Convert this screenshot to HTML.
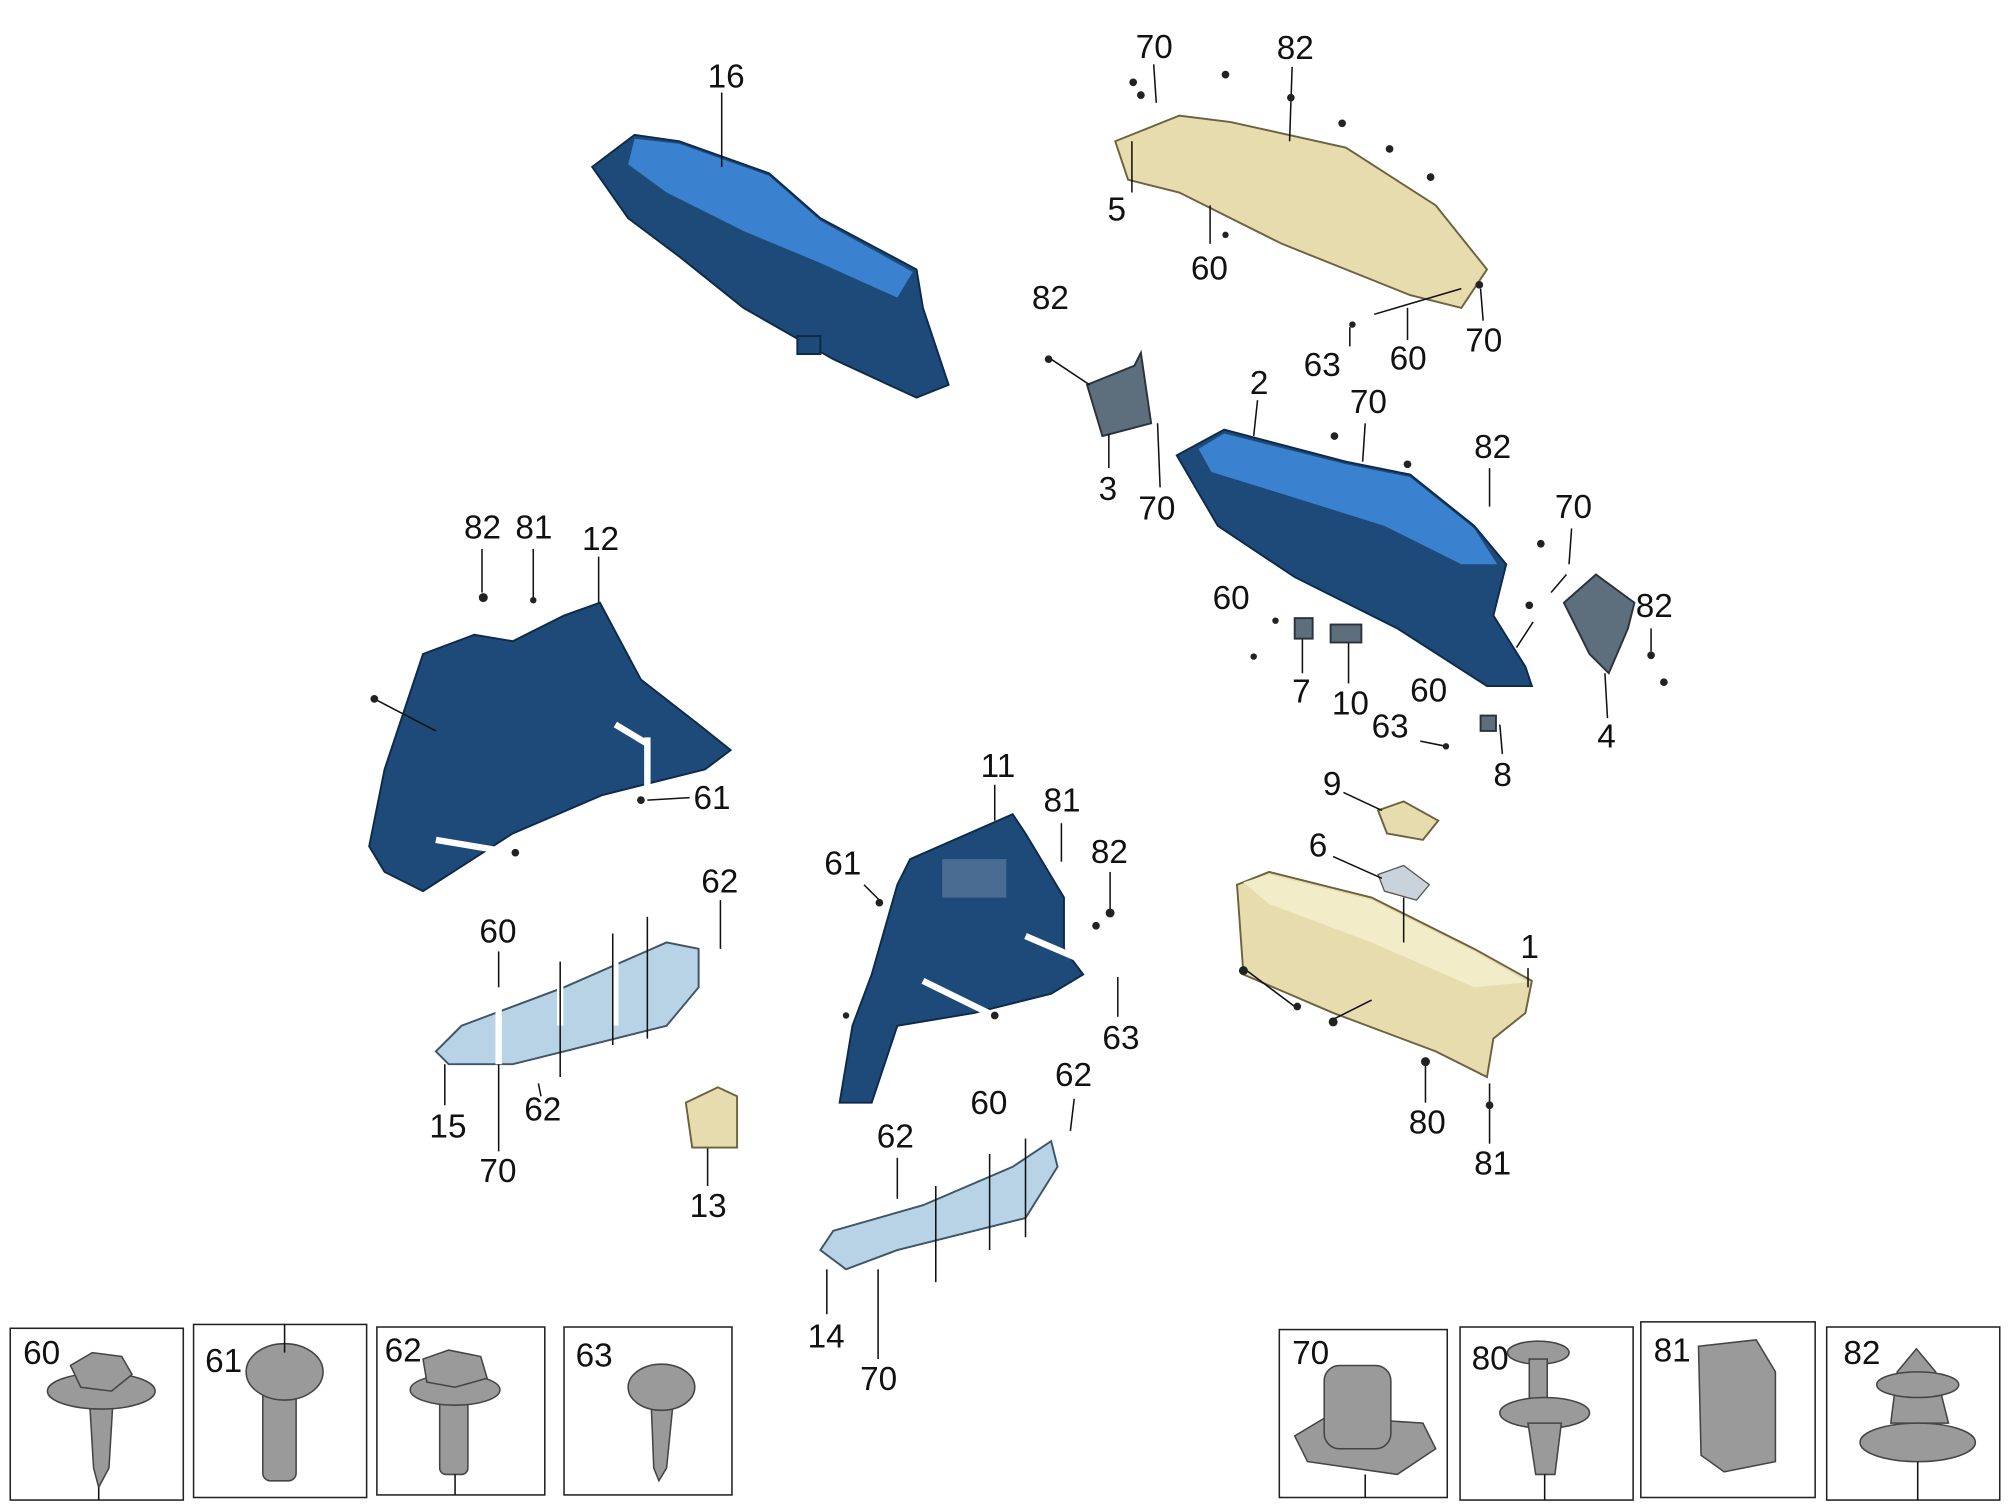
<!DOCTYPE html>
<html><head><meta charset="utf-8"><style>
html,body{margin:0;padding:0;background:#fff;}
svg{display:block}
text{font-family:"Liberation Sans",sans-serif;font-size:26px;fill:#111}
.b{fill:#1d4a78;stroke:#0d2a48;stroke-width:1.5}
.bl{fill:#3a82cf}
.y{fill:#e6dcae;stroke:#6b6240;stroke-width:1.5}
.g{fill:#5d6e7c;stroke:#2a333b;stroke-width:1.5}
.lb{fill:#b9d3e6;stroke:#3d5566;stroke-width:1.5}
.l{stroke:#111;stroke-width:1.2;fill:none}
.bx{fill:#fff;stroke:#222;stroke-width:1.2}
.m{fill:#9a9a9a;stroke:#444;stroke-width:1.2}
.w{stroke:#fff;stroke-width:5}
.d{fill:#222}
</style></head><body>
<svg width="2010" height="1508" viewBox="0 0 1568 1176" xmlns="http://www.w3.org/2000/svg">
<!-- 16 -->
<polygon class="b" points="462,130 495,105 530,110 600,135 640,170 715,210 720,240 740,300 715,310 650,280 580,240 530,200 490,170"/>
<polygon class="bl" points="495,108 530,112 600,137 640,172 712,212 700,232 640,205 580,180 520,150 490,128"/>
<rect x="622" y="262" width="18" height="14" class="b"/>
<line class="l" x1="563" y1="72" x2="563" y2="130"/><text x="552" y="68">16</text>
<!-- 5 -->
<polygon class="y" points="870,110 920,90 960,95 1050,115 1120,160 1160,210 1140,240 1100,230 1000,190 920,150 880,140"/>
<g class="l"><line x1="900" y1="50" x2="902" y2="80"/><line x1="1008" y1="52" x2="1006" y2="110"/><line x1="883" y1="110" x2="883" y2="150"/><line x1="944" y1="190" x2="944" y2="160"/><line x1="1053" y1="270" x2="1053" y2="255"/><line x1="1098" y1="265" x2="1098" y2="240"/><line x1="1157" y1="250" x2="1155" y2="225"/></g>
<g class="d"><circle cx="884" cy="64" r="3"/><circle cx="890" cy="74" r="3"/><circle cx="956" cy="58" r="3"/><circle cx="1007" cy="76" r="3"/><circle cx="1047" cy="96" r="3"/><circle cx="1084" cy="116" r="3"/><circle cx="1116" cy="138" r="3"/><circle cx="956" cy="183" r="2.5"/><circle cx="1055" cy="253" r="2.5"/><circle cx="1154" cy="222" r="3"/></g>
<text x="886" y="45">70</text><text x="996" y="46">82</text><text x="864" y="172">5</text><text x="929" y="218">60</text>
<text x="1017" y="293">63</text><text x="1084" y="288">60</text><text x="1143" y="274">70</text>
<line class="l" x1="1072" y1="245" x2="1140" y2="225"/>
<!-- 3 -->
<polygon class="g" points="848,300 885,285 890,275 898,330 860,340"/>
<text x="805" y="241">82</text><text x="857" y="390">3</text><text x="888" y="405">70</text>
<line class="l" x1="820" y1="280" x2="850" y2="300"/><line class="l" x1="865" y1="365" x2="865" y2="338"/><line class="l" x1="905" y1="380" x2="903" y2="330"/>
<circle class="d" cx="818" cy="280" r="3"/>
<!-- 2 -->
<polygon class="b" points="918,355 955,335 1050,360 1100,370 1150,410 1175,440 1165,480 1190,520 1195,535 1160,535 1090,490 1010,450 950,410"/>
<polygon class="bl" points="935,350 955,338 1050,362 1100,372 1150,412 1168,440 1140,440 1080,410 1000,385 945,368"/>
<text x="975" y="307">2</text><text x="1053" y="322">70</text><text x="1150" y="357">82</text><text x="1213" y="404">70</text>
<text x="946" y="475">60</text><text x="1008" y="548">7</text><text x="1039" y="557">10</text><text x="1100" y="547">60</text>
<text x="1070" y="575">63</text><text x="1165" y="613">8</text><text x="1246" y="583">4</text><text x="1276" y="481">82</text>
<line class="l" x1="981" y1="312" x2="978" y2="340"/>
<g class="l"><line x1="1065" y1="330" x2="1063" y2="360"/><line x1="1162" y1="365" x2="1162" y2="395"/><line x1="1226" y1="412" x2="1224" y2="440"/><line x1="1016" y1="525" x2="1016" y2="495"/><line x1="1052" y1="533" x2="1052" y2="500"/><line x1="1108" y1="578" x2="1128" y2="582"/><line x1="1172" y1="588" x2="1170" y2="565"/><line x1="1288" y1="490" x2="1288" y2="508"/><line x1="1210" y1="462" x2="1222" y2="448"/><line x1="1183" y1="505" x2="1196" y2="485"/></g>
<g class="d"><circle cx="1041" cy="340" r="3"/><circle cx="1098" cy="362" r="3"/><circle cx="1202" cy="424" r="3"/><circle cx="1193" cy="472" r="3"/><circle cx="1288" cy="511" r="3"/><circle cx="1298" cy="532" r="3"/><circle cx="995" cy="484" r="2.5"/><circle cx="978" cy="512" r="2.5"/><circle cx="1128" cy="582" r="2.5"/></g>
<!-- 4 -->
<polygon class="g" points="1220,470 1245,448 1275,470 1270,490 1255,525 1240,510"/>
<line class="l" x1="1252" y1="525" x2="1254" y2="560"/>
<rect x="1010" y="482" width="14" height="16" class="g"/><rect x="1038" y="487" width="24" height="14" class="g"/><rect x="1155" y="558" width="12" height="12" class="g"/>
<!-- 12 -->
<polygon class="b" points="288,660 300,600 330,510 370,495 400,500 440,480 468,470 500,530 545,565 570,585 550,600 470,620 400,650 330,695 300,680"/>
<line class="w" x1="340" y1="655" x2="400" y2="665"/><line class="w" x1="480" y1="565" x2="505" y2="580"/><line class="w" x1="505" y1="575" x2="505" y2="620"/>
<text x="362" y="420">82</text><text x="402" y="420">81</text><text x="454" y="429">12</text><text x="541" y="631">61</text>
<line class="l" x1="467" y1="434" x2="467" y2="470"/>
<g class="l"><line x1="376" y1="428" x2="376" y2="462"/><line x1="416" y1="428" x2="416" y2="466"/><line x1="505" y1="624" x2="538" y2="622"/><line x1="292" y1="545" x2="340" y2="570"/></g>
<g class="d"><circle cx="377" cy="466" r="3.5"/><circle cx="416" cy="468" r="2.5"/><circle cx="292" cy="545" r="3"/><circle cx="500" cy="624" r="3"/><circle cx="402" cy="665" r="3"/></g>
<!-- 15 -->
<polygon class="lb" points="340,820 360,800 440,770 520,735 545,740 545,770 520,800 440,820 400,830 350,830"/>
<line class="w" x1="389" y1="770" x2="389" y2="830"/><line class="w" x1="437" y1="750" x2="437" y2="800"/><line class="w" x1="480" y1="728" x2="480" y2="800"/>
<g class="l"><line x1="389" y1="742" x2="389" y2="770"/><line x1="437" y1="750" x2="437" y2="840"/><line x1="478" y1="728" x2="478" y2="815"/><line x1="505" y1="715" x2="505" y2="810"/><line x1="562" y1="702" x2="562" y2="740"/><line x1="420" y1="845" x2="422" y2="855"/></g>
<text x="374" y="735">60</text><text x="547" y="696">62</text><text x="335" y="887">15</text><text x="409" y="874">62</text><text x="374" y="922">70</text><text x="538" y="949">13</text>
<line class="l" x1="389" y1="830" x2="389" y2="898"/><line class="l" x1="347" y1="830" x2="347" y2="862"/><line class="l" x1="552" y1="895" x2="552" y2="925"/>
<polygon class="y" points="535,860 560,848 575,855 575,895 540,895"/>
<!-- 11 -->
<polygon class="b" points="655,860 665,800 680,760 700,690 710,670 790,635 800,650 830,700 830,740 845,760 820,775 760,790 700,800 680,860"/>
<rect x="735" y="670" width="50" height="30" fill="#4a6c92"/>
<line class="w" x1="720" y1="765" x2="775" y2="792"/><line class="w" x1="800" y1="730" x2="870" y2="760"/>
<text x="765" y="606">11</text><text x="814" y="633">81</text><text x="643" y="682">61</text><text x="851" y="673">82</text><text x="860" y="818">63</text>
<line class="l" x1="776" y1="612" x2="776" y2="640"/>
<g class="l"><line x1="828" y1="642" x2="828" y2="672"/><line x1="866" y1="680" x2="866" y2="710"/><line x1="674" y1="690" x2="686" y2="702"/><line x1="872" y1="793" x2="872" y2="762"/></g>
<g class="d"><circle cx="866" cy="712" r="3.5"/><circle cx="855" cy="722" r="3"/><circle cx="686" cy="704" r="3"/><circle cx="776" cy="792" r="3"/><circle cx="660" cy="792" r="2.5"/></g>
<!-- 14 -->
<polygon class="lb" points="640,975 650,960 720,940 790,910 820,890 825,910 800,950 760,960 700,975 660,990"/>
<g class="l"><line x1="730" y1="925" x2="730" y2="1000"/><line x1="772" y1="900" x2="772" y2="975"/><line x1="800" y1="888" x2="800" y2="965"/><line x1="838" y1="857" x2="835" y2="882"/><line x1="700" y1="903" x2="700" y2="935"/></g>
<text x="684" y="895">62</text><text x="757" y="869">60</text><text x="823" y="847">62</text><text x="630" y="1051">14</text><text x="671" y="1084">70</text>
<line class="l" x1="685" y1="990" x2="685" y2="1060"/><line class="l" x1="645" y1="990" x2="645" y2="1025"/>
<!-- 1 -->
<polygon class="y" points="965,690 990,680 1070,700 1150,740 1195,765 1190,790 1165,810 1160,840 1120,820 1040,790 970,760"/>
<polygon fill="#f3ecc8" points="970,688 990,682 1070,702 1150,742 1192,766 1150,770 1070,735 990,705"/>
<polygon class="y" points="1075,632 1095,625 1122,640 1110,655 1082,650"/>
<polygon fill="#c9d3dc" stroke="#555" points="1075,682 1095,675 1115,690 1105,702 1080,695"/>
<text x="1032" y="620">9</text><text x="1021" y="668">6</text><text x="1186" y="747">1</text><text x="1099" y="884">80</text><text x="1150" y="916">81</text>
<line class="l" x1="1095" y1="700" x2="1095" y2="735"/>
<g class="l"><line x1="1048" y1="618" x2="1078" y2="632"/><line x1="1040" y1="668" x2="1078" y2="685"/><line x1="1192" y1="755" x2="1192" y2="770"/><line x1="1112" y1="860" x2="1112" y2="828"/><line x1="1162" y1="892" x2="1162" y2="845"/><line x1="970" y1="755" x2="1010" y2="785"/><line x1="1040" y1="795" x2="1070" y2="780"/></g>
<g class="d"><circle cx="970" cy="757" r="3.5"/><circle cx="1012" cy="785" r="3"/><circle cx="1040" cy="797" r="3.5"/><circle cx="1112" cy="828" r="3.5"/><circle cx="1162" cy="862" r="3"/></g>
<!-- boxes -->
<rect class="bx" x="8" y="1036" width="135" height="134"/>
<polygon class="m" points="70,1095 88,1095 85,1145 77,1160 73,1145"/><ellipse class="m" cx="79" cy="1085" rx="42" ry="14"/><polygon class="m" points="55,1065 72,1055 95,1058 103,1072 87,1085 63,1082"/>
<line class="l" x1="77" y1="1160" x2="77" y2="1170"/>
<text x="18" y="1064">60</text>
<rect class="bx" x="151" y="1033" width="135" height="135"/>
<rect class="m" x="205" y="1080" width="26" height="75" rx="6"/><ellipse class="m" cx="222" cy="1070" rx="30" ry="22"/>
<line class="l" x1="222" y1="1033" x2="222" y2="1055"/>
<text x="160" y="1070">61</text>
<rect class="bx" x="294" y="1035" width="131" height="131"/>
<rect class="m" x="343" y="1090" width="22" height="60" rx="5"/><ellipse class="m" cx="355" cy="1084" rx="35" ry="12"/><polygon class="m" points="330,1060 350,1053 375,1058 380,1075 355,1082 333,1078"/>
<line class="l" x1="355" y1="1150" x2="355" y2="1166"/>
<text x="300" y="1062">62</text>
<rect class="bx" x="440" y="1035" width="131" height="131"/>
<polygon class="m" points="508,1095 525,1095 520,1145 514,1155 510,1145"/><ellipse class="m" cx="516" cy="1082" rx="26" ry="18"/>
<text x="449" y="1066">63</text>
<rect class="bx" x="998" y="1037" width="131" height="131"/>
<polygon class="m" points="1010,1120 1035,1105 1110,1110 1120,1130 1090,1150 1020,1140"/><rect class="m" x="1033" y="1065" width="52" height="65" rx="12"/>
<line class="l" x1="1065" y1="1150" x2="1065" y2="1168"/>
<text x="1008" y="1064">70</text>
<rect class="bx" x="1139" y="1035" width="135" height="135"/>
<ellipse class="m" cx="1200" cy="1055" rx="24" ry="9"/><rect class="m" x="1193" y="1060" width="14" height="35"/><ellipse class="m" cx="1205" cy="1102" rx="35" ry="12"/><polygon class="m" points="1192,1110 1218,1110 1213,1150 1198,1150"/>
<line class="l" x1="1205" y1="1150" x2="1205" y2="1170"/>
<text x="1148" y="1068">80</text>
<rect class="bx" x="1280" y="1031" width="136" height="137"/>
<polygon class="m" points="1325,1050 1370,1045 1385,1070 1385,1140 1345,1148 1327,1135"/>
<text x="1290" y="1062">81</text>
<rect class="bx" x="1425" y="1035" width="135" height="135"/>
<polygon class="m" points="1480,1070 1495,1052 1510,1070 1520,1110 1475,1110"/><ellipse class="m" cx="1496" cy="1125" rx="45" ry="15"/><ellipse class="m" cx="1496" cy="1080" rx="32" ry="10"/>
<line class="l" x1="1496" y1="1140" x2="1496" y2="1170"/>
<text x="1438" y="1064">82</text>
</svg>
</body></html>
